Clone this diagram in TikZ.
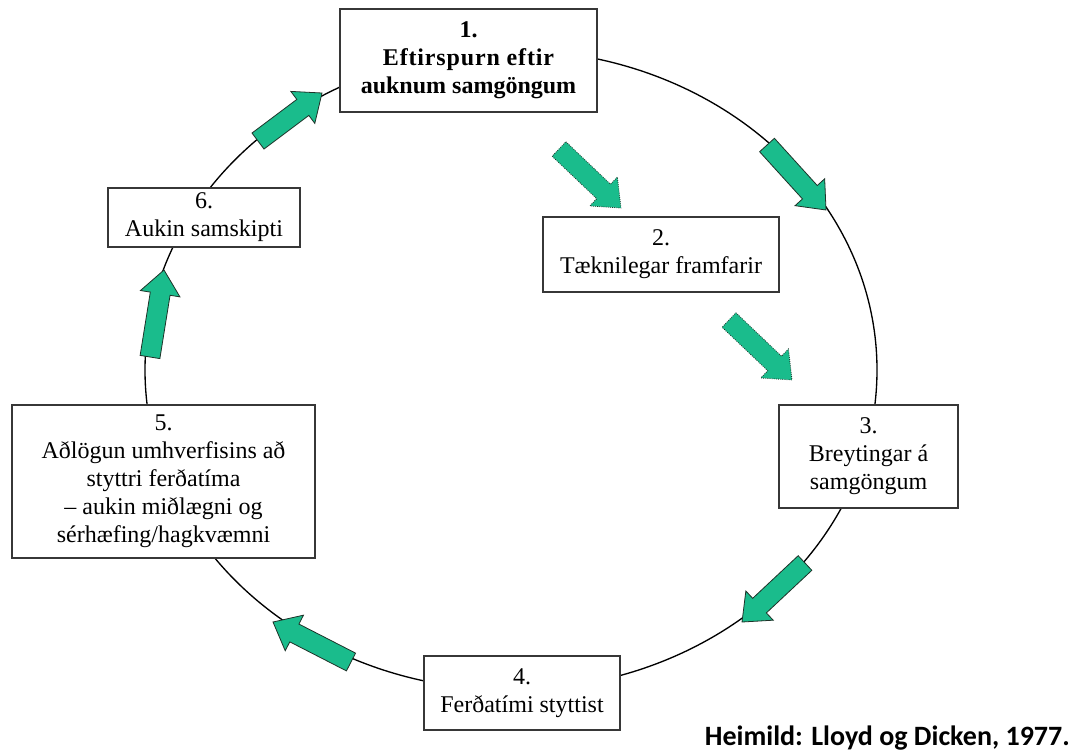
\documentclass[tikz,border=0pt]{standalone}
\usepackage{fontspec}
\setmainfont{Liberation Serif}
\newfontfamily\notefont{Carlito}
\usetikzlibrary{calc}
\definecolor{arrowgreen}{RGB}{26,188,140}
\definecolor{arrowline}{RGB}{30,50,40}
\definecolor{boxline}{RGB}{55,55,55}

% block arrow from tail #2 to tip #3
\newcommand\greenarrow[3][]{%
  \coordinate (ga-base) at ($(#3)!18pt!(#2)$);
  \draw[fill=arrowgreen, draw=arrowline, line width=0.6pt, line join=miter, #1]
    ($(#2)!7.5pt!90:(#3)$) -- ($(ga-base)!7.5pt!90:(#3)$)
    -- ($(ga-base)!15pt!90:(#3)$) -- (#3)
    -- ($(ga-base)!15pt!-90:(#3)$) -- ($(ga-base)!7.5pt!-90:(#3)$)
    -- ($(#2)!7.5pt!-90:(#3)$) -- cycle;
}

\begin{document}
\begin{tikzpicture}[x=0.75pt, y=-0.75pt,
  stage/.style={draw=boxline, line width=1.2pt, fill=white, align=center,
    font=\fontsize{18}{21}\selectfont, inner sep=0pt},
  sz/.style 2 args={minimum width=#1*0.75pt, minimum height=#2*0.75pt},
  cycleline/.style={draw=black, line width=1pt}]

\useasboundingbox (0,0) rectangle (1074,754);

% the cycle
\draw[cycleline] (511,370) ellipse [x radius=366, y radius=320];

% stages
\node[stage, sz={257}{103}] (s1) at (468.5,60.5)
  {\bfseries 1.\\ \bfseries{\addfontfeature{LetterSpace=3.5}Eftirspurn eftir}\\ \bfseries auknum samgöngum};
\node[stage, sz={236}{75}] (s2) at (661,254.5) {2.\\Tæknilegar framfarir};
\node[stage, sz={179}{103}] (s3) at (868.5,456.5) {3.\\Breytingar á\\samgöngum};
\node[stage, sz={196}{74}] (s4) at (522,693) {4.\\Ferðatími styttist};
\node[stage, sz={303}{153}] (s5) at (163.5,481.5)
  {5.\\Aðlögun umhverfisins að\\styttri ferðatíma\\– aukin miðlægni og\\sérhæfing/hagkvæmni};
\node[stage, sz={192}{59}] (s6) at (204,217.5) {6.\\Aukin samskipti};

% arrow end points
\coordinate (a61t) at (258,141); \coordinate (a61h) at (322,93);
\coordinate (a12t) at (767,145); \coordinate (a12h) at (826,210);
\coordinate (b12t) at (559,149); \coordinate (b12h) at (621,208);
\coordinate (b23t) at (729,320); \coordinate (b23h) at (792,380);
\coordinate (a34t) at (805,563); \coordinate (a34h) at (742,622);
\coordinate (a45t) at (351,662); \coordinate (a45h) at (273,622);
\coordinate (a56t) at (150,357); \coordinate (a56h) at (164,270);

\greenarrow{a61t}{a61h}
\greenarrow{a12t}{a12h}
\greenarrow[densely dotted]{b12t}{b12h}
\greenarrow[densely dotted]{b23t}{b23h}
\greenarrow{a34t}{a34h}
\greenarrow{a45t}{a45h}
\greenarrow{a56t}{a56h}

% source
\node[anchor=base east, inner sep=0pt, font=\notefont\bfseries\fontsize{21}{24}\selectfont]
  (src) at (1070,745) {Heimild: Lloyd og Dicken, 1977.};
\end{tikzpicture}
\end{document}
